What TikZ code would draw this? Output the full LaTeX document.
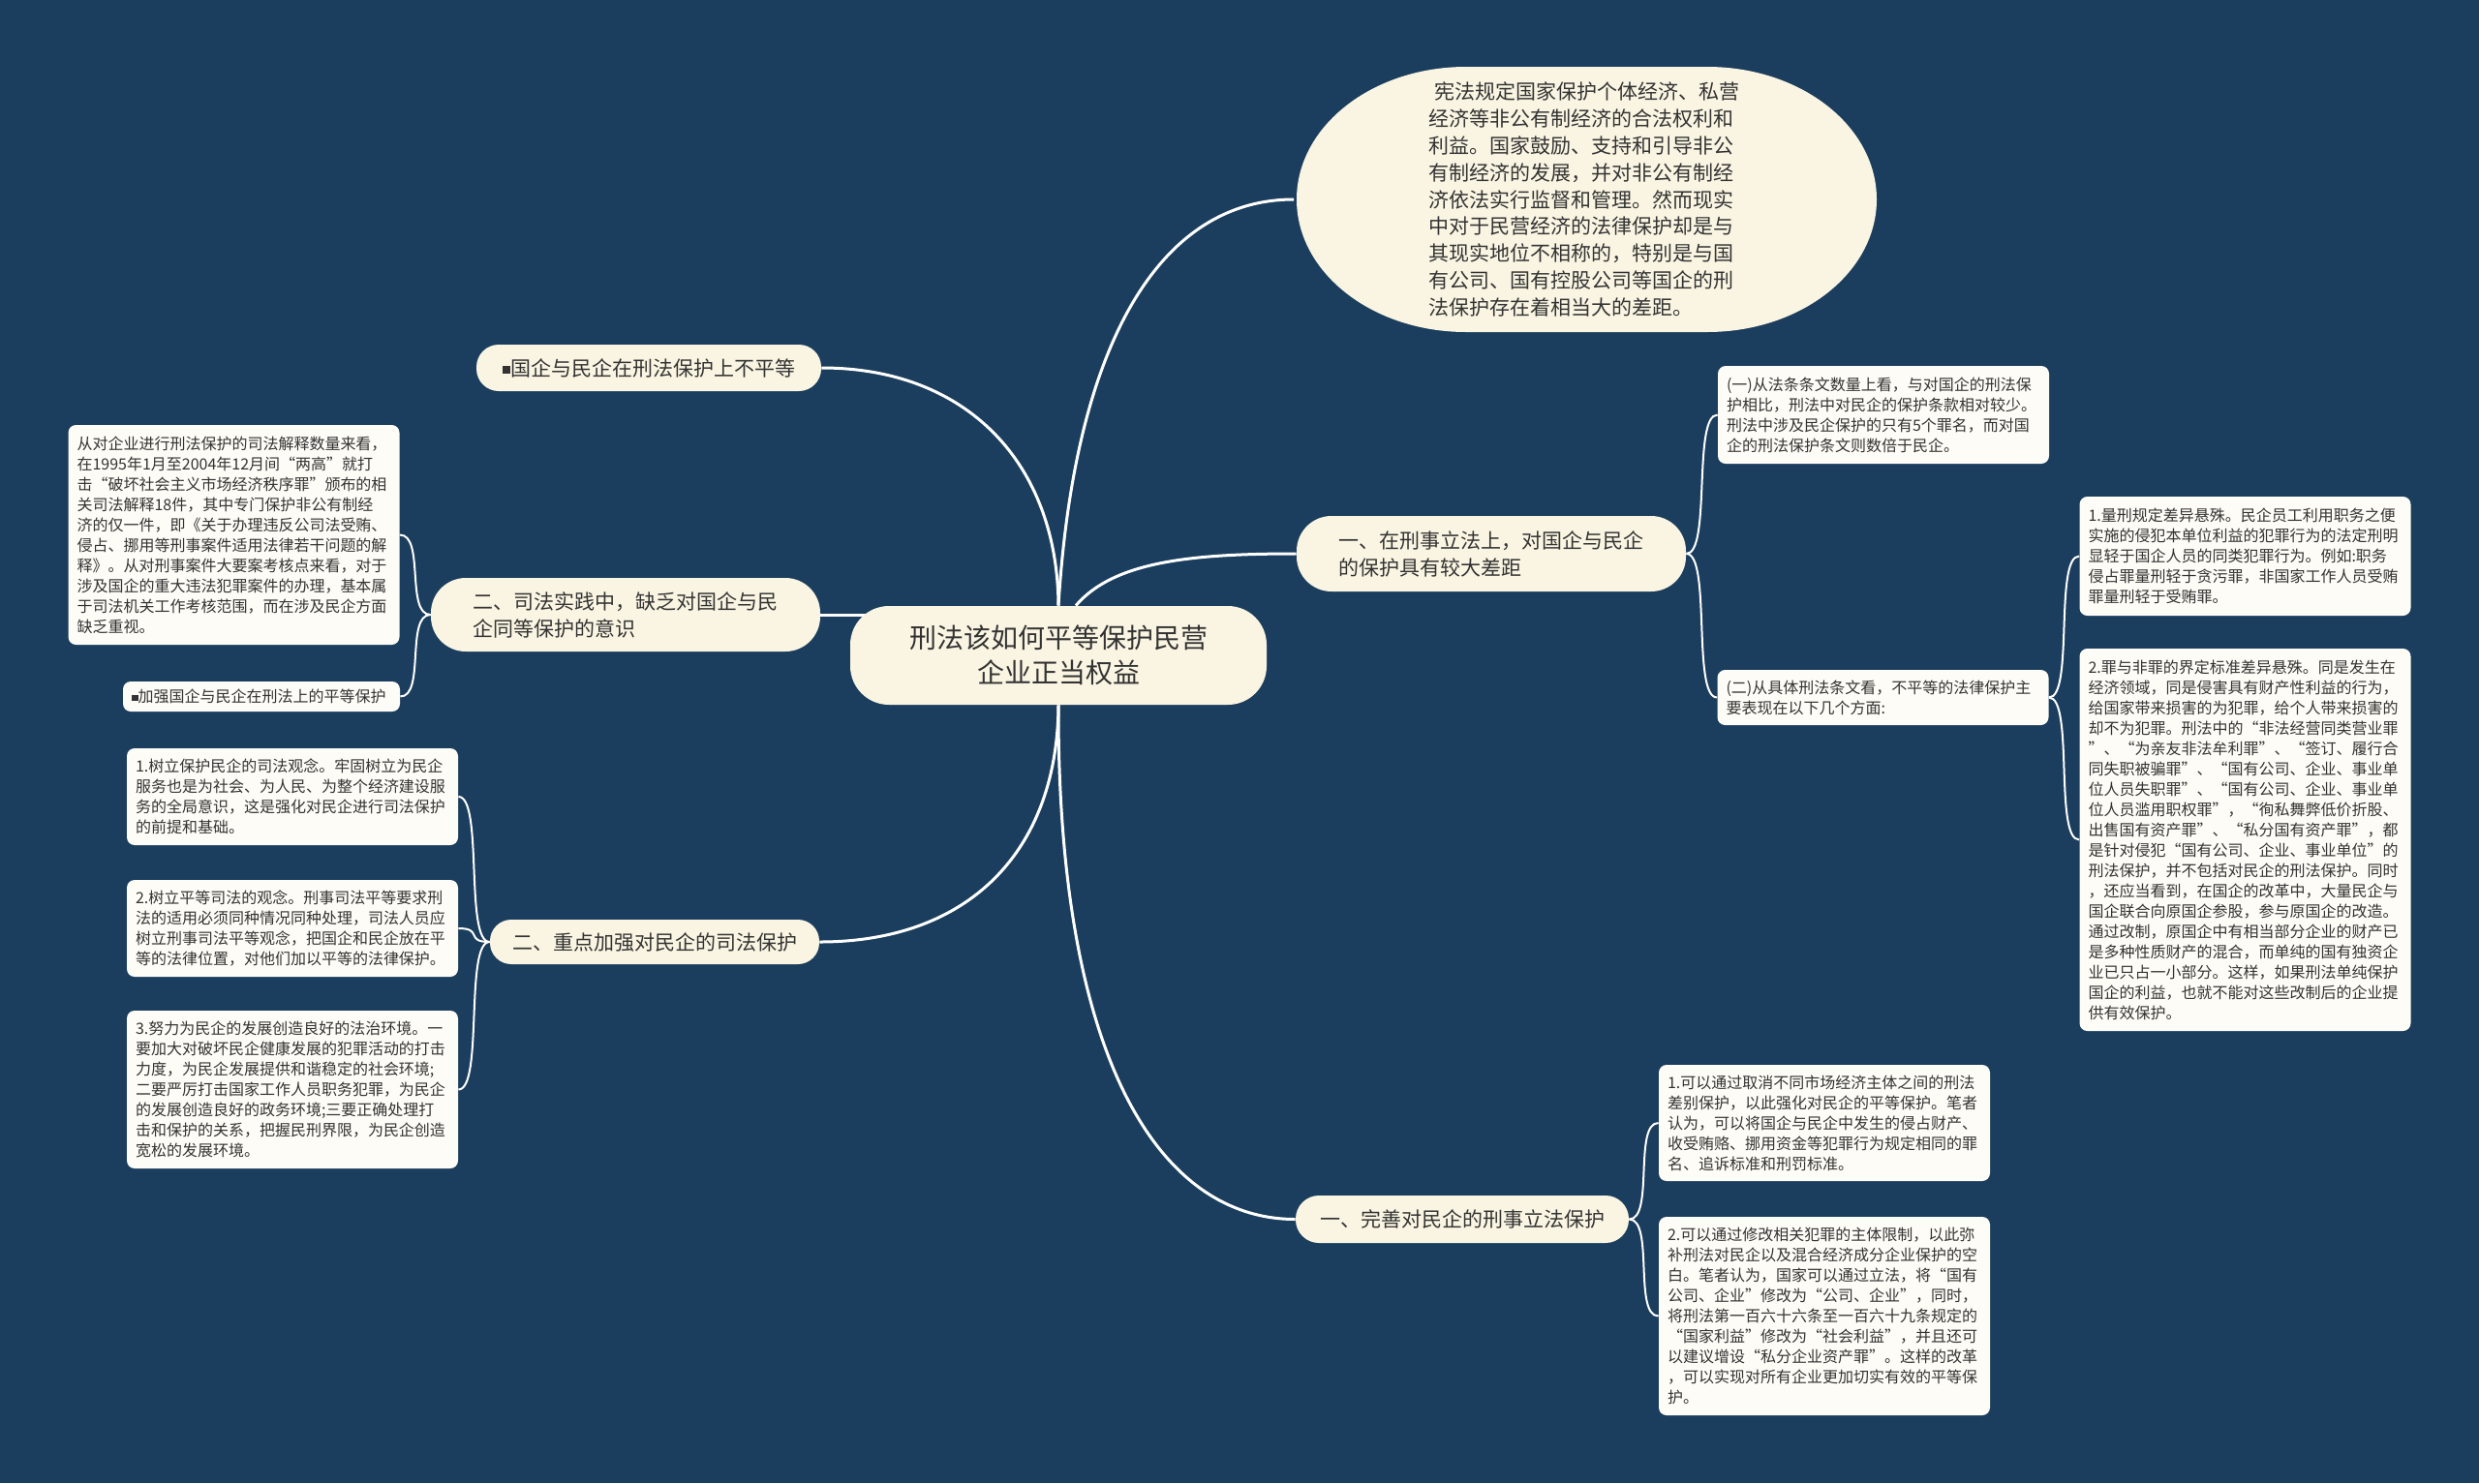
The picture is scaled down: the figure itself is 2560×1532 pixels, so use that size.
\documentclass[tikz,border=0pt]{standalone}
\usepackage{fontspec}
\setmainfont{Noto Sans CJK SC}
\usetikzlibrary{calc}
\pgfdeclarelayer{bg}
\pgfdeclarelayer{lines}
\pgfsetlayers{bg,lines,main}
\definecolor{bgc}{HTML}{1B3E5E}
\definecolor{mainc}{HTML}{FAF5E2}
\definecolor{leafc}{HTML}{FDFCF6}
\definecolor{textc}{HTML}{333333}
\newcommand\sqbox{\raisebox{0.08em}{\rule{0.42em}{0.42em}}}
\newcommand\twigR[2]{\draw[twig] (#1) .. controls +(26,0) and +(-26,0) .. (#2);}
\newcommand\twigL[2]{\draw[twig] (#1) .. controls +(-26,0) and +(26,0) .. (#2);}
\begin{document}
\begin{tikzpicture}[x=0.5pt,y=-0.5pt,
  trunk/.style={draw=white, line width=1.5pt},
  twig/.style={draw=white, line width=1pt},
  mainbox/.style={fill=mainc, text=textc, inner sep=0pt, align=left, font=\fontsize{10.5pt}{14pt}\selectfont},
  leaf/.style={fill=leafc, text=textc, rounded corners=4pt, inner xsep=4.5pt, inner ysep=0pt, align=left, text width=162pt, font=\fontsize{8pt}{10.5pt}\selectfont, minimum height=#1},
]
\begin{pgfonlayer}{bg}
\fill[bgc] (0,0) rectangle (2560,1532);
\end{pgfonlayer}
\useasboundingbox (0,0) rectangle (2560,1532);

% centre
\node[mainbox, align=center, minimum width=215pt, minimum height=51pt, rounded corners=20pt, font=\fontsize{14pt}{18pt}\selectfont] (c) at (1093,677) {刑法该如何平等保护民营\\企业正当权益};

% top shape
\fill[mainc] (1339,206) .. controls (1339,130.3) and (1417.3,69) .. (1514,69) -- (1763,69)
  .. controls (1859.7,69) and (1938,130.3) .. (1938,206)
  .. controls (1938,281.7) and (1859.7,343) .. (1763,343) -- (1514,343)
  .. controls (1417.3,343) and (1339,281.7) .. cycle;
\node[inner sep=0pt, minimum width=299.5pt, minimum height=137pt, text=textc, align=left, font=\fontsize{10.5pt}{13.9pt}\selectfont] (t) at (1636,206) {\hspace*{3pt}宪法规定国家保护个体经济、私营\\经济等非公有制经济的合法权利和\\利益。国家鼓励、支持和引导非公\\有制经济的发展，并对非公有制经\\济依法实行监督和管理。然而现实\\中对于民营经济的法律保护却是与\\其现实地位不相称的，特别是与国\\有公司、国有控股公司等国企的刑\\法保护存在着相当大的差距。};

% branches
\node[mainbox, minimum width=178pt, minimum height=24pt, rounded corners=11.5pt] (b1) at (670,380) {\sqbox 国企与民企在刑法保护上不平等};
\node[mainbox, minimum width=201pt, minimum height=38pt, rounded corners=18pt] (b2) at (646,635) {二、司法实践中，缺乏对国企与民\\企同等保护的意识};
\node[mainbox, minimum width=201pt, minimum height=39pt, rounded corners=18pt] (b3) at (1540,572) {一、在刑事立法上，对国企与民企\\的保护具有较大差距};
\node[mainbox, minimum width=170pt, minimum height=23pt, rounded corners=11pt] (b4) at (676,973) {二、重点加强对民企的司法保护};
\node[mainbox, minimum width=172pt, minimum height=24.5pt, rounded corners=12pt] (b5) at (1510,1259.5) {一、完善对民企的刑事立法保护};

% leaves left
\node[leaf=113.5pt] (l1) at (241.5,552.5) {从对企业进行刑法保护的司法解释数量来看，\\在1995年1月至2004年12月间“两高”就打\\击“破坏社会主义市场经济秩序罪”颁布的相\\关司法解释18件，其中专门保护非公有制经\\济的仅一件，即《关于办理违反公司法受贿、\\侵占、挪用等刑事案件适用法律若干问题的解\\释》。从对刑事案件大要案考核点来看，对于\\涉及国企的重大违法犯罪案件的办理，基本属\\于司法机关工作考核范围，而在涉及民企方面\\缺乏重视。};
\node[leaf=15.5pt, text width=134pt] (l2) at (270,719.5) {\sqbox 加强国企与民企在刑法上的平等保护};
\node[leaf=50pt] (l3) at (302,823) {1.树立保护民企的司法观念。牢固树立为民企\\服务也是为社会、为人民、为整个经济建设服\\务的全局意识，这是强化对民企进行司法保护\\的前提和基础。};
\node[leaf=50pt] (l4) at (302,959) {2.树立平等司法的观念。刑事司法平等要求刑\\法的适用必须同种情况同种处理，司法人员应\\树立刑事司法平等观念，把国企和民企放在平\\等的法律位置，对他们加以平等的法律保护。};
\node[leaf=81.5pt] (l5) at (302,1125.5) {3.努力为民企的发展创造良好的法治环境。一\\要加大对破坏民企健康发展的犯罪活动的打击\\力度，为民企发展提供和谐稳定的社会环境;\\二要严厉打击国家工作人员职务犯罪，为民企\\的发展创造良好的政务环境;三要正确处理打\\击和保护的关系，把握民刑界限，为民企创造\\宽松的发展环境。};

% leaves right
\node[leaf=50.5pt] (r1) at (1945,428.5) {(一)从法条条文数量上看，与对国企的刑法保\\护相比，刑法中对民企的保护条款相对较少。\\刑法中涉及民企保护的只有5个罪名，而对国\\企的刑法保护条文则数倍于民企。};
\node[leaf=28.5pt] (r2) at (1944.5,720.5) {(二)从具体刑法条文看，不平等的法律保护主\\要表现在以下几个方面:};
\node[leaf=61.5pt] (r3) at (2318.5,574.5) {1.量刑规定差异悬殊。民企员工利用职务之便\\实施的侵犯本单位利益的犯罪行为的法定刑明\\显轻于国企人员的同类犯罪行为。例如:职务\\侵占罪量刑轻于贪污罪，非国家工作人员受贿\\罪量刑轻于受贿罪。};
\node[leaf=197.5pt] (r4) at (2318.5,867.5) {2.罪与非罪的界定标准差异悬殊。同是发生在\\经济领域，同是侵害具有财产性利益的行为，\\给国家带来损害的为犯罪，给个人带来损害的\\却不为犯罪。刑法中的“非法经营同类营业罪\\”、“为亲友非法牟利罪”、“签订、履行合\\同失职被骗罪”、“国有公司、企业、事业单\\位人员失职罪”、“国有公司、企业、事业单\\位人员滥用职权罪”，“徇私舞弊低价折股、\\出售国有资产罪”、“私分国有资产罪”，都\\是针对侵犯“国有公司、企业、事业单位”的\\刑法保护，并不包括对民企的刑法保护。同时\\，还应当看到，在国企的改革中，大量民企与\\国企联合向原国企参股，参与原国企的改造。\\通过改制，原国企中有相当部分企业的财产已\\是多种性质财产的混合，而单纯的国有独资企\\业已只占一小部分。这样，如果刑法单纯保护\\国企的利益，也就不能对这些改制后的企业提\\供有效保护。};
\node[leaf=60pt] (r5) at (1884,1160) {1.可以通过取消不同市场经济主体之间的刑法\\差别保护，以此强化对民企的平等保护。笔者\\认为，可以将国企与民企中发生的侵占财产、\\收受贿赂、挪用资金等犯罪行为规定相同的罪\\名、追诉标准和刑罚标准。};
\node[leaf=102.5pt] (r6) at (1884,1359.5) {2.可以通过修改相关犯罪的主体限制，以此弥\\补刑法对民企以及混合经济成分企业保护的空\\白。笔者认为，国家可以通过立法，将“国有\\公司、企业”修改为“公司、企业”，同时，\\将刑法第一百六十六条至一百六十九条规定的\\“国家利益”修改为“社会利益”，并且还可\\以建议增设“私分企业资产罪”。这样的改革\\，可以实现对所有企业更加切实有效的平等保\\护。};

% connectors
\begin{pgfonlayer}{lines}
\draw[trunk] (c.north) .. controls (1092,480) and (1000,380) .. (b1.east);
\draw[trunk] (c.north) .. controls (1110,350) and (1200,206) .. (t.west);
\draw[trunk] ($(c.north)+(18,0)$) .. controls (1150,580) and (1230,572) .. (b3.west);
\draw[trunk] (c.south) .. controls (1092,880) and (1000,973) .. (b4.east);
\draw[trunk] (c.south) .. controls (1092,1100) and (1200,1259.5) .. (b5.west);
\draw[trunk] (b2.east) -- ++(80,0);
\twigL{b2.west}{l1.east}
\twigL{b2.west}{l2.east}
\twigL{b4.west}{l3.east}
\twigL{b4.west}{l4.east}
\twigL{b4.west}{l5.east}
\twigR{b3.east}{r1.west}
\twigR{b3.east}{r2.west}
\twigR{r2.east}{r3.west}
\twigR{r2.east}{r4.west}
\twigR{b5.east}{r5.west}
\twigR{b5.east}{r6.west}
\end{pgfonlayer}
\end{tikzpicture}
\end{document}
